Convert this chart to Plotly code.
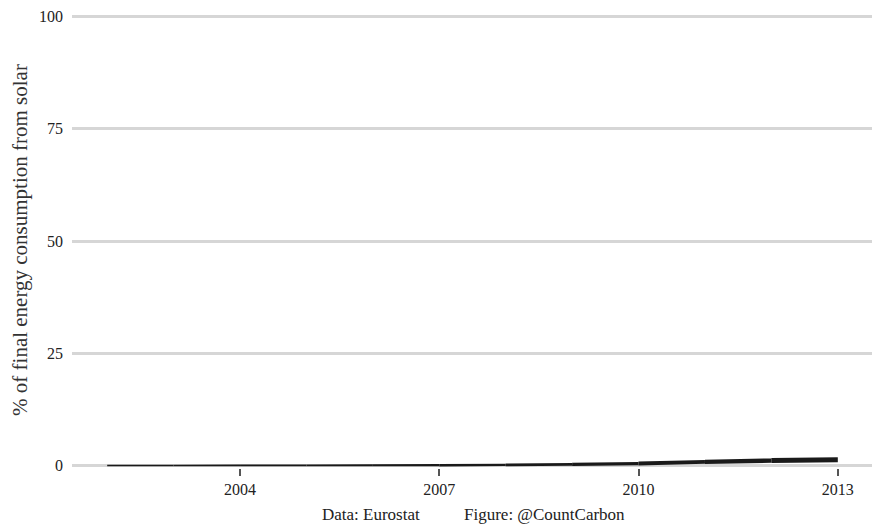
import plotly.graph_objects as go

# Solar share of final energy consumption (%)
years = [2002, 2003, 2004, 2005, 2006, 2007, 2008, 2009, 2010, 2011, 2012, 2013]
solar_share = [0.05, 0.06, 0.07, 0.08, 0.10, 0.13, 0.20, 0.32, 0.50, 0.85, 1.15, 1.35]

x_ticks = [2004, 2007, 2010, 2013]
y_ticks = [0, 25, 50, 75, 100]

fonte = "Liberation Serif, Times New Roman, serif"

fig = go.Figure()

# the line gets thicker towards the end, so draw it in pieces
n = len(years) - 1
for i in range(n):
    largura = 1.6 + 3.4 * (i / (n - 1)) ** 2
    fig.add_trace(go.Scatter(
        x=years[i:i + 2], y=solar_share[i:i + 2],
        mode="lines",
        line=dict(color="#1a1a1a", width=largura),
        showlegend=False, hoverinfo="x+y",
    ))

fig.update_layout(
    width=880, height=527,
    margin=dict(l=64, r=13, t=4, b=67, autoexpand=False),
    paper_bgcolor="white", plot_bgcolor="white",
    font=dict(family=fonte, size=16, color="#222222"),
    showlegend=False,
    annotations=[
        dict(text="Data: Eurostat", x=0.372, y=-0.101, xref="paper", yref="paper",
             showarrow=False, xanchor="center", yanchor="middle",
             font=dict(family=fonte, size=17, color="#222222")),
        dict(text="Figure: @CountCarbon", x=0.588, y=-0.101, xref="paper", yref="paper",
             showarrow=False, xanchor="center", yanchor="middle",
             font=dict(family=fonte, size=17, color="#222222")),
    ],
)

fig.update_xaxes(
    range=[2001.47, 2013.56],
    tickvals=x_ticks, ticktext=[str(a) for a in x_ticks],
    showgrid=False, zeroline=False, showline=False,
    ticks="outside", ticklen=7, tickwidth=1.5, tickcolor="#555555",
    tickfont=dict(family=fonte, size=16, color="#222222"),
    automargin=False,
)

fig.update_yaxes(
    range=[-0.5, 101],
    tickvals=y_ticks, ticktext=[str(v) for v in y_ticks],
    showgrid=True, gridcolor="#d6d6d6", gridwidth=3,
    zeroline=False, showline=False, ticks="",
    ticklabelstandoff=8,
    tickfont=dict(family=fonte, size=16, color="#222222"),
    title=dict(text="% of final energy consumption from solar",
               font=dict(family=fonte, size=21, color="#333333"), standoff=8),
    automargin=False,
)

fig.write_html("out.html")
